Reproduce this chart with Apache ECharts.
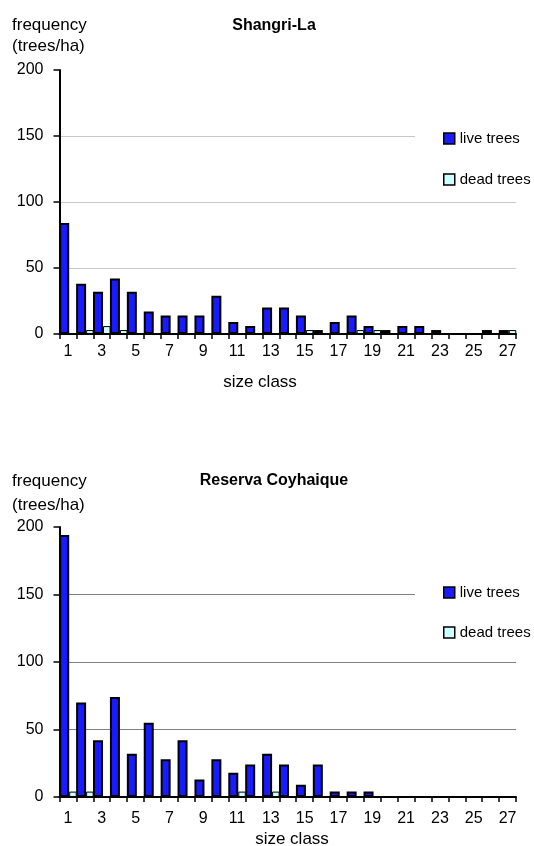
<!DOCTYPE html>
<html>
<head>
<meta charset="utf-8">
<script src="https://cdn.jsdelivr.net/npm/echarts@6/dist/echarts.min.js"></script>
<style>
html,body{margin:0;padding:0;background:#fff;}
#c{width:534px;height:846px;}
</style>
</head>
<body>
<div id="c"></div>
<script>
// ---- data ----
var sizeClasses = ['1','2','3','4','5','6','7','8','9','10','11','12','13','14','15','16','17','18','19','20','21','22','23','24','25','26','27'];
var shangriLive = [84,38,32,42,32,17,14,14,14,29,9,6,20,20,14,3,9,14,6,3,6,6,3,0,0,3,3];
var shangriDead = [0,3,6,3,0,0,0,0,0,0,0,0,0,0,3,0,0,3,3,0,0,0,0,0,0,0,3];
var coyLive = [194,70,42,74,32,55,28,42,13,28,18,24,32,24,9,24,4,4,4,0,0,0,0,0,0,0,0];
var coyDead = [4,4,0,0,0,0,0,0,0,0,4,0,4,0,0,0,0,0,0,0,0,0,0,0,0,0,0];
var yTicks = [0,50,100,150,200];
var titles = ['Shangri-La','Reserva Coyhaique'];
var seriesNames = ['live trees','dead trees'];

var FONT = '"Liberation Sans", Arial, sans-serif';
var LIVE = '#1a1aff', DEAD = '#ccffff';

function xAx(gi, margin){
  return {
    type:'category', gridIndex:gi, data:sizeClasses,
    axisLine:{lineStyle:{color:'#000',width:2}},
    axisTick:{show:true, interval:0, length:5, lineStyle:{color:'#000',width:1.5}},
    axisLabel:{interval:1, color:'#000', fontSize:16, fontFamily:FONT, margin:margin},
    splitLine:{show:false}
  };
}
function yAx(gi, gridColor){
  return {
    type:'value', gridIndex:gi, min:yTicks[0], max:yTicks[yTicks.length-1], interval:50,
    axisLine:{show:true, lineStyle:{color:'#000',width:2}},
    axisTick:{show:true, length:6, lineStyle:{color:'#000',width:1.5}},
    axisLabel:{color:'#000', fontSize:16, fontFamily:FONT, margin:16},
    splitLine:{show:true, showMinLine:false, showMaxLine:false, lineStyle:{color:gridColor,width:1.2}}
  };
}
function barS(name, data, idx, color, width, bw){
  return {
    name:name, type:'bar', xAxisIndex:idx, yAxisIndex:idx, data:data,
    barWidth:width, barGap:'0%',
    itemStyle:{color:color, borderColor:'#000', borderWidth:bw},
    emphasis:{disabled:true}, animation:false
  };
}
function legend(top, gap){
  return {
    orient:'vertical', left:415, top:top, padding:[10,20,10,28],
    backgroundColor:'#fff', itemGap:gap, itemWidth:11, itemHeight:11, icon:'rect',
    itemStyle:{borderColor:'#000', borderWidth:1.5},
    textStyle:{color:'#000', fontSize:15, fontFamily:FONT},
    data:seriesNames, selectedMode:false
  };
}
function txt(x, y, s, opt){
  opt = opt || {};
  return {type:'text', x:x, y:y, style:{text:s, fill:'#000', font:(opt.bold?'bold ':'')+(opt.size||16)+'px '+FONT, textAlign:opt.align||'left', textVerticalAlign:'middle'}};
}

var chart = echarts.init(document.getElementById('c'), null, {renderer:'canvas'});
chart.setOption({
  animation:false,
  grid:[
    {left:59.5, width:456.5, top:70, height:264},
    {left:59.5, width:456.5, top:527, height:270}
  ],
  xAxis:[xAx(0,10), xAx(1,14)],
  yAxis:[yAx(0,'#c8c8c8'), yAx(1,'#808080')],
  legend:[legend(121,26), legend(575,25)],
  series:[
    barS(seriesNames[0], shangriLive, 0, LIVE, 10, 2),
    barS(seriesNames[1], shangriDead, 0, DEAD, 7.5, 1),
    barS(seriesNames[0], coyLive, 1, LIVE, 10, 2),
    barS(seriesNames[1], coyDead, 1, DEAD, 7.5, 1)
  ],
  graphic:[
    txt(12, 25, 'frequency', {size:17}),
    txt(12, 46, '(trees/ha)', {size:17}),
    txt(274, 26, titles[0], {bold:true, size:16, align:'center'}),
    txt(260, 382, 'size class', {size:17, align:'center'}),
    txt(12, 481, 'frequency', {size:17}),
    txt(12, 505, '(trees/ha)', {size:17}),
    txt(274, 481, titles[1], {bold:true, size:16, align:'center'}),
    txt(292, 839, 'size class', {size:17, align:'center'})
  ]
});
</script>
</body>
</html>
